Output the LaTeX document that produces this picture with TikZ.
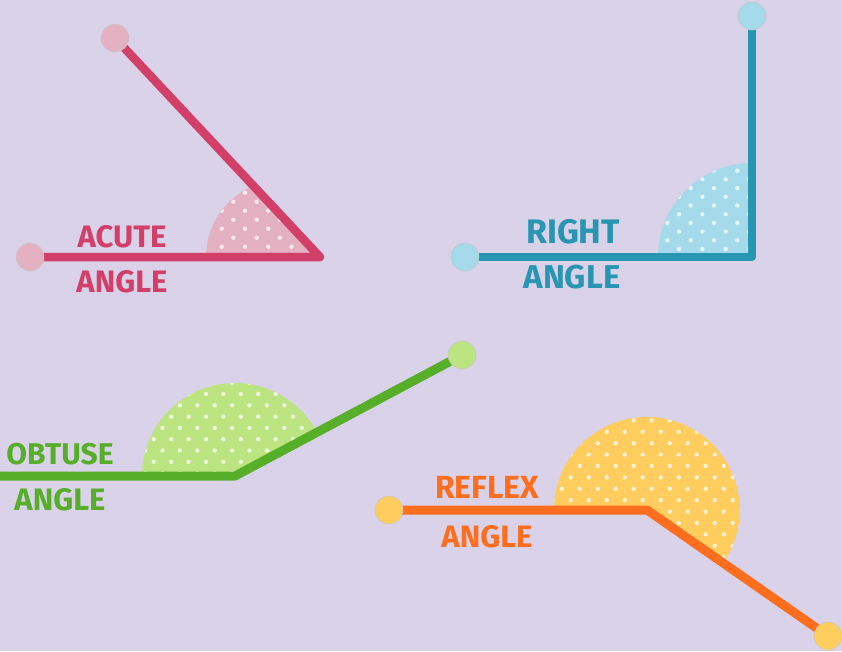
\documentclass[tikz,border=0pt]{standalone}
\usepackage{fontspec}
\setmainfont{Fira Sans}
\definecolor{bgc}{HTML}{DAD2E8}
\definecolor{acline}{HTML}{D23F69}
\definecolor{acfill}{HTML}{E4B1C3}
\definecolor{rtline}{HTML}{2896B2}
\definecolor{rtfill}{HTML}{A4DAEA}
\definecolor{obline}{HTML}{56AE29}
\definecolor{obfill}{HTML}{BCE480}
\definecolor{rfline}{HTML}{FF6E1F}
\definecolor{rffill}{HTML}{FFCD5E}
\pgfdeclarelayer{back}
\pgfdeclarelayer{mid}
\pgfsetlayers{back,mid,main}
\begin{document}
\begin{tikzpicture}[x=1pt,y=-1pt,
  ln/.style={line width=8.5pt, line cap=round, line join=round},
  enddot/.style={circle, minimum size=28pt, inner sep=0pt, draw=black!22, line width=0.5pt},
  lbl/.style={font=\bfseries\fontsize{#1}{#1}\selectfont, inner sep=0pt},
  pdot/.style={white, opacity=0.72}]
\begin{pgfonlayer}{back}
\fill[bgc] (0,0) rectangle (842,651);
\end{pgfonlayer}
\useasboundingbox (0,0) rectangle (842,651);

% ---------- ACUTE ----------
\coordinate (av) at (320,257);
\node[enddot, fill=acfill] (al) at (30,257) {};
\node[enddot, fill=acfill] (at) at (115,38) {};
\begin{pgfonlayer}{mid}
\begin{scope}
\clip (av) -- (150,257) -- (150,75) -- cycle;
\clip (283,257) circle (77);
\fill[acfill] (283,257) circle (77);
\foreach \j in {0,...,10} {\foreach \i in {0,...,6} {
  \fill[pdot] ({221.7+23.3*\i+11.65*mod(\j,2)},{246.7-9*\j}) circle (2.2);}}
\end{scope}
\draw[ln, acline] (al.center) -- (av) -- (at.center);
\end{pgfonlayer}
\node[lbl=31, text=acline] (acutet) at (122,237) {ACUTE};
\node[lbl=31, text=acline] (acutea) at (122,282) {ANGLE};

% ---------- RIGHT ----------
\coordinate (rv) at (752,257);
\node[enddot, fill=rtfill] (rl) at (465,257) {};
\node[enddot, fill=rtfill] (rt) at (752,16) {};
\begin{pgfonlayer}{mid}
\begin{scope}
\clip (rv) rectangle (652,150);
\clip (rv) circle (94);
\fill[rtfill] (rv) circle (94);
\foreach \j in {0,...,10} {\foreach \i in {0,...,6} {
  \fill[pdot] ({644.1+23.3*\i+11.65*mod(\j,2)},{170.7+8.7*\j}) circle (2.2);}}
\end{scope}
\draw[ln, rtline] (rl.center) -- (rv) -- (rt.center);
\end{pgfonlayer}
\node[lbl=34, text=rtline] (rightt) at (573,232) {RIGHT};
\node[lbl=33, text=rtline] (righta) at (572,277) {ANGLE};

% ---------- OBTUSE ----------
\coordinate (ov) at (235,476);
\coordinate (ol) at (-10,476);
\node[enddot, fill=obfill] (or) at (462,355) {};
\begin{pgfonlayer}{mid}
\begin{scope}
\clip (ov) -- (135,476) -- (135,370) -- (335,370) -- (335,422.7) -- cycle;
\clip (ov) circle (93);
\fill[obfill] (ov) circle (93);
\foreach \j in {0,...,10} {\foreach \i in {0,...,13} {
  \fill[pdot] ({119+17.4*\i+8.7*mod(\j,2)},{371.4+11.3*\j}) circle (2.2);}}
\end{scope}
\draw[ln, line width=9pt, obline] (ol) -- (ov) -- (or.center);
\end{pgfonlayer}
\node[lbl=30, text=obline] (obtuset) at (60,454) {OBTUSE};
\node[lbl=31, text=obline] (obtusea) at (60,500) {ANGLE};

% ---------- REFLEX ----------
\coordinate (fv) at (647,510);
\node[enddot, fill=rffill] (fl) at (389,510) {};
\node[enddot, fill=rffill] (fr) at (828,636) {};
\begin{pgfonlayer}{mid}
\begin{scope}
\clip (fv) -- (547,510) -- (547,405) -- (750,405) -- (750,581.7) -- cycle;
\clip (fv) circle (93);
\fill[rffill] (fv) circle (93);
\foreach \j in {0,...,14} {\foreach \i in {0,...,12} {
  \fill[pdot] ({534.7+18*\i+9*mod(\j,2)},{409+11.4*\j}) circle (2.2);}}
\end{scope}
\draw[ln, line width=9pt, rfline] (fl.center) -- (fv) -- (fr.center);
\end{pgfonlayer}
\node[lbl=32, text=rfline] (reflext) at (487,487) {REFLEX};
\node[lbl=31, text=rfline] (reflexa) at (487,537) {ANGLE};
\end{tikzpicture}
\end{document}
